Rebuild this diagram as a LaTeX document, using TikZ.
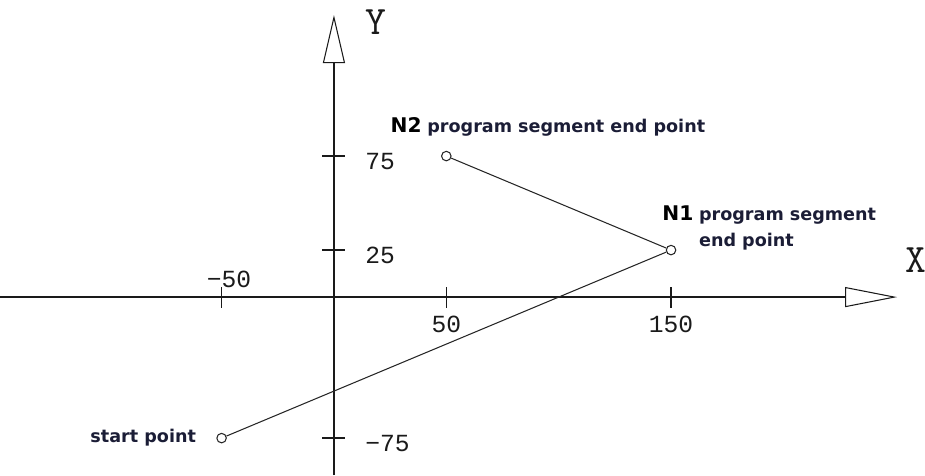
\documentclass[tikz,border=0pt]{standalone}
\usepackage{fontspec}
\usepackage{tikz}
\usetikzlibrary{
  arrows.meta,
  positioning
}
\newfontfamily\cadfont{Liberation Mono}
\newfontfamily\axisfont{Latin Modern Mono}
\newfontfamily\tagfont{DejaVu Sans}
\definecolor{cnAxis}{HTML}{1A1A1A}
\definecolor{cnPath}{HTML}{262626}
\definecolor{cnText}{HTML}{1B1D36}
\tikzset{
  axisline/.style={line width=1.1pt, cnAxis},
  tickline/.style={line width=0.9pt, cnAxis},
  pathline/.style={line width=0.6pt, cnPath},
  ptmark/.style={draw=cnPath, circle, line width=0.6pt, minimum size=0.19cm, inner sep=0pt},
  ticklbl/.style={font=\cadfont\fontsize{14}{16}\selectfont, text=cnAxis, inner sep=0pt},
  axislbl/.style={font=\axisfont\fontsize{23}{25}\selectfont, text=cnAxis, inner sep=0pt},
  numtag/.style={font=\tagfont\bfseries\fontsize{11.5}{13}\selectfont, text=black, inner sep=0pt},
  segtag/.style={font=\tagfont\bfseries\fontsize{10}{12}\selectfont, text=cnText, inner sep=0pt}
}
\begin{document}
\begin{tikzpicture}[x=0.04494cm, y=0.0376cm]
  \useasboundingbox (-148.6,-94.7) rectangle (263.0,158.0);
  % axes
  \coordinate (xmin) at (-148.6,0);
  \coordinate (xmax) at (250.6,0);
  \coordinate (ymin) at (0,-94.7);
  \coordinate (ymax) at (0,150.0);
  \draw[axisline, -{Triangle[open, length=1.04cm, width=0.40cm, line width=0.6pt]}] (xmin) -- (xmax);
  \draw[axisline, -{Triangle[open, length=0.96cm, width=0.44cm, line width=0.6pt]}] (ymin) -- (ymax);
  \node[axislbl] (xlbl) at (258.8,19.7) {X};
  \node[axislbl] (ylbl) at (18.7,146.3) {Y};
  % ticks
  \foreach \v in {-50,50,150}{
    \draw[tickline] (\v,0) ++(0,-0.21cm) -- ++(0,0.42cm);
  }
  \foreach \v in {-75,25,75}{
    \draw[tickline] (0,\v) ++(-0.23cm,0) -- ++(0.46cm,0);
  }
  \node[ticklbl, anchor=south west, xshift=-0.3cm, yshift=0.18cm] (lx-50) at (-50,0) {−50};
  \foreach \v in {50,150}{
    \node[ticklbl, anchor=north, yshift=-0.38cm] (lx\v) at (\v,0) {\v};
  }
  \foreach \v/\lbl in {-75/−75, 25/25, 75/75}{
    \node[ticklbl, anchor=west, xshift=0.62cm, yshift=-0.1cm] (ly\v) at (0,\v) {\lbl};
  }
  % program path
  \node[ptmark] (start) at (-50,-75) {};
  \node[ptmark] (n1) at (150,25) {};
  \node[ptmark] (n2) at (50,75) {};
  \draw[pathline] (start) -- (n1) -- (n2);
  % tags
  \node[segtag, left=0.4cm of start] (starttag) {start point};
  \node[numtag, anchor=base west] (n2num) at ([shift={(-1.12cm,0.48cm)}]n2.center) {N2};
  \node[segtag, anchor=base west] (n2seg) at ([xshift=0.1cm]n2num.base east) {program segment end point};
  \node[numtag, anchor=base west] (n1num) at ([shift={(-0.18cm,0.6cm)}]n1.center) {N1};
  \node[segtag, anchor=base west] (n1seg) at ([xshift=0.1cm]n1num.base east) {program segment};
  \node[segtag, anchor=base west] (n1end) at ([yshift=-0.52cm]n1seg.base west) {end point};
\end{tikzpicture}
\end{document}
